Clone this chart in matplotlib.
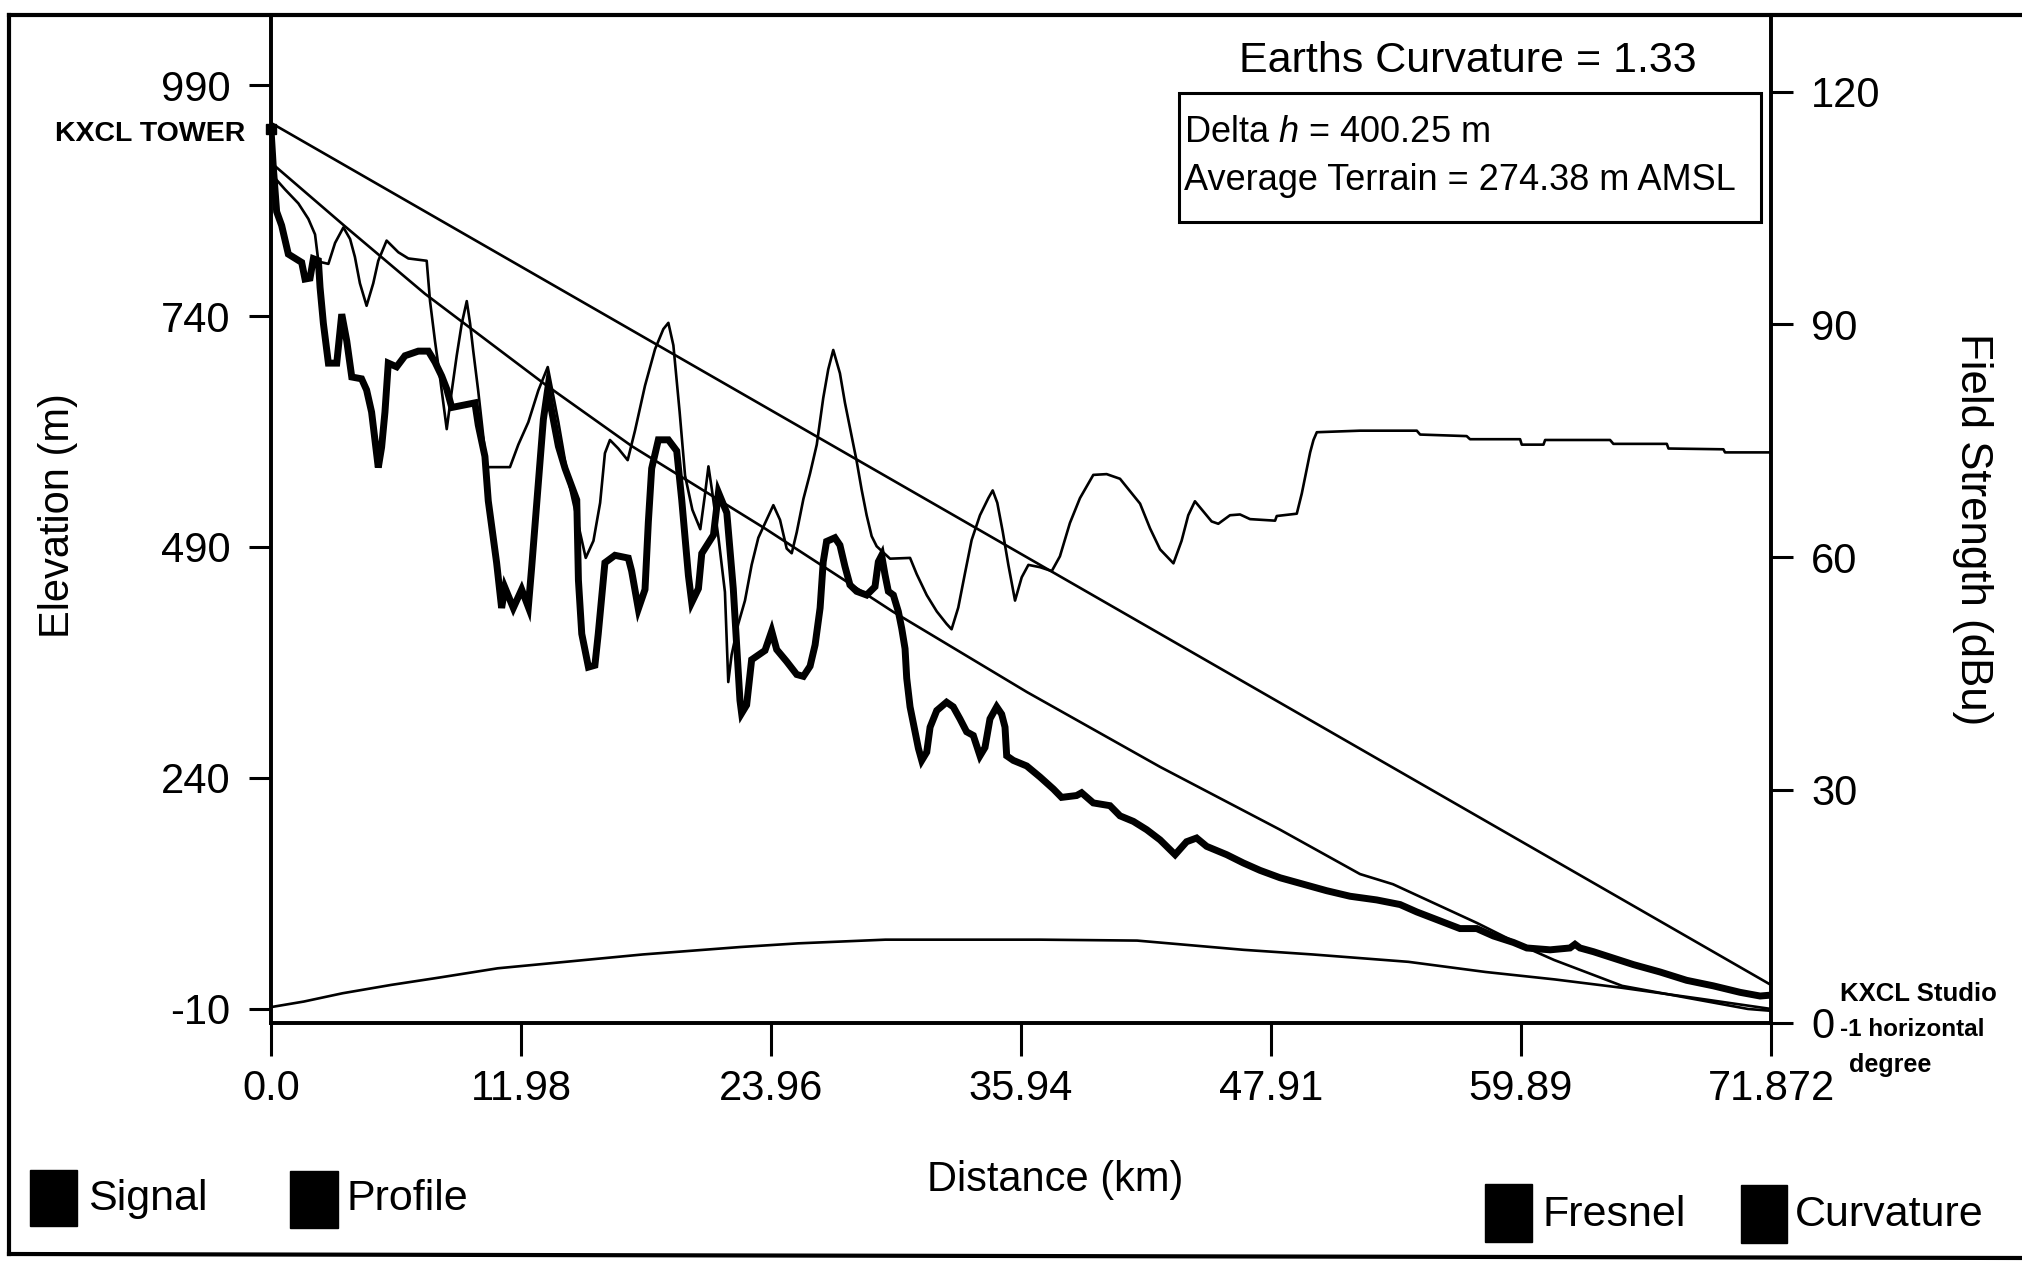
import matplotlib
matplotlib.use("Agg")
import matplotlib.pyplot as plt
from matplotlib.patches import Rectangle
from matplotlib.lines import Line2D

plt.rcParams['font.family'] = ['Liberation Sans', 'DejaVu Sans']
plt.rcParams['mathtext.fontset'] = 'custom'
plt.rcParams['mathtext.rm'] = 'Liberation Sans'
plt.rcParams['mathtext.it'] = 'Liberation Sans:italic'

# ---------------- data ----------------
x_tick_values = [0.0, 11.98, 23.96, 35.94, 47.91, 59.89, 71.872]
x_tick_labels = ["0.0", "11.98", "23.96", "35.94", "47.91", "59.89", "71.872"]
elev_ticks = [-10, 240, 490, 740, 990]
field_ticks = [0, 30, 60, 90, 120]

# straight line from tower to studio (m)
los_km = [0.0, 71.872]
los_m = [949, 16]

# second (curved) clearance line (m)
fresnel_km = [0.0, 3.55, 7.38, 13.13, 17.3, 23.67, 29.8, 36.22, 42.6, 48.35,
              52.18, 53.76, 57.79, 60.18, 61.48, 64.74, 70.77, 71.872]
fresnel_m = [906, 837, 764, 666, 599, 510, 420, 333, 252, 184,
             136, 125, 83, 56, 43, 15, -10, -12]

# earth curvature bulge (m)
curv_km = [0.0, 1.57, 3.43, 5.75, 8.07, 10.86, 14.11, 17.82, 22.47, 25.25, 29.44,
           36.87, 41.5, 46.6, 49.9, 54.5, 58.2, 61.5, 64.7, 68.5, 71.872]
curv_m = [-8, -2, 7, 16, 24, 34, 41, 49, 57, 61, 65,
          65, 64, 54, 49, 41, 30, 22, 13, 1, -10]

# terrain profile (m)
profile_km = [0.0, 0.11, 0.27, 0.51, 0.83, 1.47, 1.63, 1.87, 2.03, 2.27, 2.35, 2.51, 2.75,
              3.15, 3.39, 3.63, 3.87, 4.34, 4.58, 4.82, 5.14, 5.30, 5.46, 5.62, 6.02, 6.42,
              7.06, 7.54, 7.86, 8.18, 8.42, 8.66, 9.77, 9.93, 10.25, 10.41, 10.81, 11.05,
              11.21, 11.61, 12.01, 12.33, 12.49, 12.81, 13.05, 13.26, 13.45, 13.77, 14.09,
              14.65, 14.73, 14.89, 15.21, 15.52, 15.68, 16.0, 16.48, 17.12, 17.28, 17.6,
              17.92, 18.08, 18.24, 18.56, 19.04, 19.44, 19.68, 20.0, 20.16, 20.48, 20.64,
              21.2, 21.44, 21.84, 22.15, 22.47, 22.55, 22.79, 23.03, 23.67, 23.99, 24.23,
              24.71, 25.19, 25.51, 25.83, 26.07, 26.31, 26.46, 26.62, 27.02, 27.26, 27.5,
              27.74, 28.06, 28.54, 28.94, 29.1, 29.26, 29.42, 29.58, 29.82, 30.06, 30.22,
              30.38, 30.46, 30.62, 30.78, 31.02, 31.18, 31.42, 31.58, 31.9, 32.37, 32.69,
              33.01, 33.33, 33.65, 33.97, 34.21, 34.45, 34.77, 35.01, 35.17, 35.25, 35.57,
              36.21, 36.85, 37.49, 37.88, 38.6, 38.84, 39.4, 40.2, 40.68, 41.32, 41.96,
              42.6, 43.32, 43.87, 44.35, 44.83, 45.79, 46.59, 47.39, 48.35, 49.47, 50.58,
              51.7, 52.98, 54.1, 54.9, 55.7, 56.97, 57.77, 58.57, 59.53, 60.17, 61.29,
              62.24, 62.48, 62.72, 63.36, 64.32, 65.28, 66.56, 67.83, 69.11, 70.39, 71.35,
              71.872]
profile_m = [942, 901, 853, 838, 807, 798, 780, 781, 802, 800, 771, 732, 689,
             689, 742, 713, 674, 672, 660, 636, 576, 598, 636, 689, 685, 697,
             702, 702, 690, 675, 661, 641, 646, 622, 588, 540, 473, 424,
             446, 424, 444, 425, 468, 560, 628, 661, 637, 599, 575,
             541, 454, 396, 360, 362, 396, 473, 481, 478, 464, 423,
             444, 517, 575, 606, 606, 594, 541, 459, 430, 445, 483,
             503, 549, 527, 445, 324, 310, 319, 368, 378, 399, 379,
             366, 352, 350, 361, 384, 424, 474, 496, 500, 492, 469,
             449, 442, 438, 447, 474, 481, 460, 442, 438, 420, 402,
             380, 348, 317, 299, 272, 259, 268, 295, 313, 322, 317,
             304, 290, 286, 264, 273, 304, 317, 309, 295, 264, 259,
             253, 241, 228, 219, 221, 224, 213, 210, 199, 193, 184,
             173, 157, 171, 175, 166, 157, 148, 140, 132, 125, 118,
             112, 108, 103, 95, 88, 77, 77, 69, 62, 56, 54,
             56, 60, 56, 52, 45, 38, 30, 21, 15, 8, 4,
             5]

# field strength (dBu)
signal_km = [0.0, 0.11, 0.67, 1.31, 1.79, 2.11, 2.27, 2.75, 3.07, 3.47, 3.79, 4.02, 4.26,
             4.58, 4.9, 5.14, 5.54, 6.1, 6.58, 7.46, 7.62, 7.86, 8.1, 8.42, 8.66, 8.9,
             9.14, 9.38, 9.54, 9.69, 9.93, 10.17, 10.33, 11.45, 11.85, 12.33, 12.81, 13.26,
             13.77, 14.25, 14.73, 15.08, 15.45, 15.77, 16.0, 16.24, 16.64, 17.09, 17.44,
             17.92, 18.4, 18.8, 19.04, 19.28, 19.58, 19.84, 20.19, 20.57, 20.8, 20.96,
             21.12, 21.44, 21.75, 21.91, 22.07, 22.39, 22.71, 23.03, 23.35, 24.07, 24.39,
             24.71, 24.95, 25.19, 25.51, 25.83, 26.15, 26.46, 26.7, 26.94, 27.26, 27.5,
             27.74, 28.06, 28.3, 28.54, 28.78, 29.02, 29.66, 30.62, 30.94, 31.42, 31.9,
             32.37, 32.61, 32.93, 33.25, 33.57, 33.97, 34.37, 34.58, 34.8, 35.06, 35.33,
             35.65, 35.97, 36.29, 36.85, 37.41, 37.8, 38.28, 38.76, 39.4, 40.04, 40.68,
             41.16, 41.64, 42.12, 42.6, 43.24, 43.63, 43.95, 44.27, 44.67, 45.07, 45.39,
             45.95, 46.43, 46.91, 48.11, 48.19, 49.15, 49.39, 49.55, 49.79, 49.95, 50.11,
             52.18, 54.9, 55.06, 57.29, 57.45, 59.85, 59.93, 60.97, 61.05, 64.16, 64.32,
             66.88, 66.96, 69.59, 69.67, 71.872]
signal_db = [110.9, 109.1, 107.4, 105.6, 103.6, 101.6, 98.1, 97.8, 100.5, 102.5, 101.0, 98.7, 95.3,
             92.4, 95.3, 98.2, 100.8, 99.3, 98.5, 98.2, 93.0, 87.8, 83.1, 76.5, 81.4, 86.0,
             90.1, 93.0, 90.1, 86.6, 81.4, 75.6, 71.6, 71.6, 74.5, 77.4, 81.5, 84.5,
             77.4, 69.9, 64.1, 59.9, 62.1, 67.0, 73.4, 75.1, 74.0, 72.5, 76.3,
             82.1, 86.8, 89.4, 90.2, 87.3, 78.7, 70.5, 66.1, 63.6, 68.2, 71.7,
             68.8, 62.5, 55.5, 43.9, 47.4, 51.4, 54.4, 59.0, 62.5, 66.7, 64.8,
             61.1, 60.5, 63.2, 67.5, 70.8, 74.5, 80.5, 84.2, 86.7, 83.7, 79.9,
             76.7, 72.4, 68.7, 65.4, 62.7, 61.4, 59.8, 59.9, 57.8, 55.1, 53.0,
             51.4, 50.7, 53.5, 57.9, 62.2, 65.4, 67.6, 68.6, 67.0, 63.3, 59.0,
             54.4, 57.4, 59.0, 58.7, 58.2, 60.1, 64.4, 67.6, 70.6, 70.7, 70.1,
             68.5, 66.9, 63.7, 61.0, 59.2, 62.1, 65.4, 67.2, 65.9, 64.6, 64.3,
             65.4, 65.5, 64.9, 64.7, 65.3, 65.6, 68.2, 70.3, 73.5, 75.1, 76.1,
             76.3, 76.3, 75.8, 75.6, 75.2, 75.2, 74.5, 74.5, 75.1, 75.1, 74.6,
             74.6, 74.0, 73.9, 73.5, 73.5]

legend_labels = ["Signal", "Profile", "Fresnel", "Curvature"]

# ---------------- figure ----------------
W, H = 2022, 1265
fig = plt.figure(figsize=(W / 100, H / 100), dpi=100)
fig.patch.set_facecolor('white')


def fx(px):
    return px / W


def fy(py):
    return 1 - py / H


ax_left, ax_right, ax_top, ax_bottom = 271, 1771, 15, 1023
ax = fig.add_axes([fx(ax_left), fy(ax_bottom), fx(ax_right) - fx(ax_left),
                   fy(ax_top) - fy(ax_bottom)])
ax2 = ax.twinx()

ax.set_xlim(0, 71.872)
ax.set_ylim(-25.2, 1065.8)
ax2.set_ylim(-0.05, 129.88)

thin = 1.9
ax.plot(los_km, los_m, color='black', lw=thin, zorder=3)
ax.plot(fresnel_km, fresnel_m, color='black', lw=thin, zorder=3)
ax.plot(curv_km, curv_m, color='black', lw=thin, zorder=3)
ax.plot(profile_km, profile_m, color='black', lw=5.0, zorder=4,
        solid_joinstyle='miter')
ax2.plot(signal_km, signal_db, color='black', lw=thin, zorder=3)
ax.plot([profile_km[0]], [profile_m[0]], marker='s', ms=7, color='black',
        clip_on=False, zorder=6)

for a in (ax, ax2):
    for s in a.spines.values():
        s.set_linewidth(2.6)
    a.set_facecolor('none')

ax.set_xticks(x_tick_values)
ax.set_xticklabels(x_tick_labels)
ax.set_yticks(elev_ticks)
ax.set_yticklabels([str(v) for v in elev_ticks])
ax2.set_yticks(field_ticks)
ax2.set_yticklabels([str(v) for v in field_ticks])

ax.tick_params(axis='x', direction='out', length=24, width=2.2, pad=9, labelsize=30)
ax.tick_params(axis='y', direction='out', length=16, width=2.2, pad=13, labelsize=30)
ax2.tick_params(axis='y', direction='out', length=16, width=2.2, pad=13, labelsize=30)

# axis titles
fig.text(fx(58), fy(516), "Elevation (m)", rotation=90, ha='center', va='center',
         fontsize=30)
fig.text(fx(1973), fy(529), "Field Strength (dBu)", rotation=-90, ha='center',
         va='center', fontsize=31.5)
fig.text(fx(1055), fy(1180), "Distance (km)", ha='center', va='center', fontsize=30)

# header texts
fig.text(fx(1468), fy(61), "Earths Curvature = 1.33", ha='center', va='center',
         fontsize=31)
fig.patches.append(Rectangle((fx(1179), fy(222)), fx(1761) - fx(1179), fy(93) - fy(222),
                             transform=fig.transFigure, fill=False, lw=2.2,
                             edgecolor='black'))
fig.text(fx(1184), fy(132), r"Delta $h$ = 400.25 m", ha='left', va='center', fontsize=26)
fig.text(fx(1184), fy(181), "Average Terrain = 274.38 m AMSL", ha='left', va='center',
         fontsize=26)

# station annotations
fig.text(fx(245), fy(134), "KXCL TOWER", ha='right', va='center', fontsize=20.5,
         fontweight='bold')
fig.text(fx(1840), fy(994), "KXCL Studio", ha='left', va='center', fontsize=18.5,
         fontweight='bold')
fig.text(fx(1840), fy(1030), "-1 horizontal", ha='left', va='center', fontsize=17.5,
         fontweight='bold')
fig.text(fx(1849), fy(1065), "degree", ha='left', va='center', fontsize=18,
         fontweight='bold')

# legend
legend_boxes = [(30, 1170, 77, 1226), (290, 1171, 338, 1228),
                (1485, 1184, 1532, 1242), (1741, 1185, 1787, 1243)]
legend_text_pos = [(88, 1199), (347, 1199), (1542, 1215), (1795, 1215)]
for (x0, y0, x1, y1), (tx, ty), lab in zip(legend_boxes, legend_text_pos, legend_labels):
    fig.patches.append(Rectangle((fx(x0), fy(y1)), fx(x1) - fx(x0), fy(y0) - fy(y1),
                                 transform=fig.transFigure, facecolor='black',
                                 edgecolor='black'))
    fig.text(fx(tx), fy(ty), lab, ha='left', va='center', fontsize=31)

# outer frame
for (xa, ya, xb, yb) in [(9, 15, 9, 1254), (9, 15, W, 15), (9, 1254, W, 1258)]:
    fig.add_artist(Line2D([fx(xa), fx(xb)], [fy(ya), fy(yb)], transform=fig.transFigure,
                          color='black', lw=3))

fig.savefig("out.png", dpi=100, facecolor='white')
